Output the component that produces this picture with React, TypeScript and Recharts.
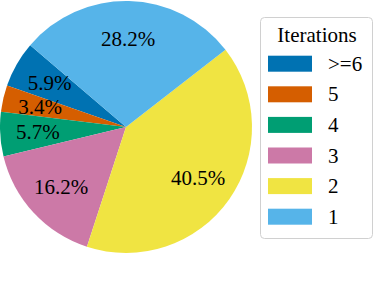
import React from 'react';
import { PieChart, Pie, Cell, Legend } from 'recharts';

const categories = ['>=6', '5', '4', '3', '2', '1'];
const shares = [5.9, 3.4, 5.7, 16.2, 40.5, 28.2];
const colors = ['#0072B2', '#D55E00', '#009E73', '#CC79A7', '#F0E442', '#56B4E9'];
const legendTitle = 'Iterations';

const data = categories.map((c, i) => ({ name: c, value: shares[i] }));
const FONT = 'Liberation Serif';
const RADIAN = Math.PI / 180;

const textStyle = { fontFamily: FONT, fontSize: 21 };

const renderLabel = (props: any) => {
  const { cx, cy, midAngle, outerRadius, value } = props;
  const r = outerRadius * 0.7;
  const x = cx + r * Math.cos(-midAngle * RADIAN);
  const y = cy + r * Math.sin(-midAngle * RADIAN);
  return (
    <text x={x} y={y} fill="#000" textAnchor="middle" dominantBaseline="central" style={textStyle}>
      {`${Number(value).toFixed(1)}%`}
    </text>
  );
};

const LegendBox = () => (
  <svg width={114} height={223} style={{ display: 'block' }}>
    <rect x={0.5} y={0.5} width={112} height={221} rx={4} ry={4} fill="#fff" stroke="#d0d0d0" strokeWidth={1} />
    <text x={57} y={24.7} textAnchor="middle" fill="#000" style={textStyle}>{legendTitle}</text>
    {categories.map((c, i) => {
      const cyRow = 46.7 + i * 30.6;
      return (
        <g key={c}>
          <rect x={8} y={cyRow - 8} width={44} height={16} fill={colors[i]} />
          <text x={68} y={cyRow} dominantBaseline="central" fill="#000" style={textStyle}>{c}</text>
        </g>
      );
    })}
  </svg>
);

export default function App() {
  return (
    <div style={{ position: 'absolute', left: 0, top: 0, width: 374, height: 284, background: '#fff', fontFamily: FONT }}>
      <PieChart width={374} height={284} margin={{ top: 0, right: 0, bottom: 0, left: 0 }} style={{ fontFamily: FONT }}>
        <Pie
          data={data}
          dataKey="value"
          nameKey="name"
          cx={126}
          cy={127}
          outerRadius={126}
          startAngle={139.5}
          endAngle={499.5}
          stroke="none"
          label={renderLabel}
          labelLine={false}
          isAnimationActive={false}
        >
          {data.map((d, i) => (
            <Cell key={d.name} fill={colors[i]} />
          ))}
        </Pie>
        <Legend
          content={() => <LegendBox />}
          wrapperStyle={{ position: 'absolute', left: 260, top: 17, width: 114, height: 223 }}
        />
      </PieChart>
    </div>
  );
}
